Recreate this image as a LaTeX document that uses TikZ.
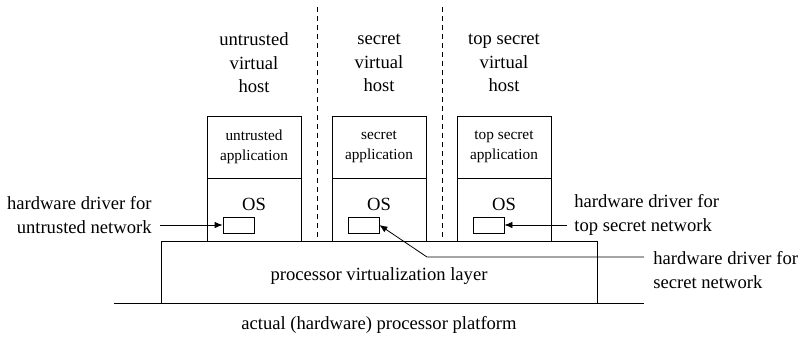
\documentclass[tikz,border=0pt]{standalone}
\usepackage{fontspec}
\setmainfont{Liberation Serif}
\usetikzlibrary{arrows.meta}
\begin{document}
\begin{tikzpicture}[x=1pt,y=-1pt,line width=0.8pt]
    \tikzstyle{big}=[font=\fontsize{18.6}{23.5}\selectfont]
    \tikzstyle{small}=[font=\fontsize{15.3}{20}\selectfont]
    \tikzstyle{box}=[draw,rectangle,minimum width=94pt,inner sep=0pt]
    \tikzstyle{driver}=[draw,rectangle,minimum width=31pt,minimum height=16pt,inner sep=0pt]
    \tikzstyle{pointer}=[-{Latex[length=8pt,width=6.5pt]}]
    \useasboundingbox (0,0) rectangle (802,343);
    \foreach \num/\x/\kind in {1/254/untrusted, 2/379/secret, 3/504/top secret}{
        \node[big,align=center] (H-\num) at (\x,63) {\kind\\virtual\\host};
        \node[box,small,align=center,minimum height=62pt] (A-\num) at (\x,147) {\kind\\application};
        \node[box,minimum height=63pt,anchor=north] (O-\num) at (A-\num.south) {};
        \node[big] (OS-\num) at (\x,204) {OS};
        \node[driver] (D-\num) at (\x-15.5,225) {};
    }
    \foreach \x in {317,442}
        \draw[dash pattern=on 5pt off 4pt] (\x,7) -- (\x,240);

    \node[draw,minimum width=436pt,minimum height=62pt,inner sep=0pt,
          label={[big,yshift=-4pt]center:processor virtualization layer}] (VL) at (379,272) {};
    \coordinate (P-left) at (114,303);
    \coordinate (P-right) at (644,303);
    \draw (P-left) -- (P-right);
    \node[big] (P) at (379,325) {actual (hardware) processor platform};

    \node[big,align=right,anchor=east,inner sep=0pt] (L-1) at (152,215) {hardware driver for\\untrusted network};
    \node[big,align=left,anchor=west,inner sep=0pt] (L-3) at (574,215) {hardware driver for\\top secret network};
    \node[big,align=left,anchor=west,inner sep=0pt] (L-2) at (653,270) {hardware driver for\\secret network};

    \draw[pointer] (D-1.west -| L-1.east) ++(8,0) -- (D-1.west);
    \draw[pointer] (D-3.east -| L-3.west) ++(-7,0) -- (D-3.east);
    \coordinate (S-end) at (644,257);
    \coordinate (S-bend) at (427,257);
    \draw[pointer] (S-end) -- (S-bend) -- (D-2.east);
\end{tikzpicture}
\end{document}
